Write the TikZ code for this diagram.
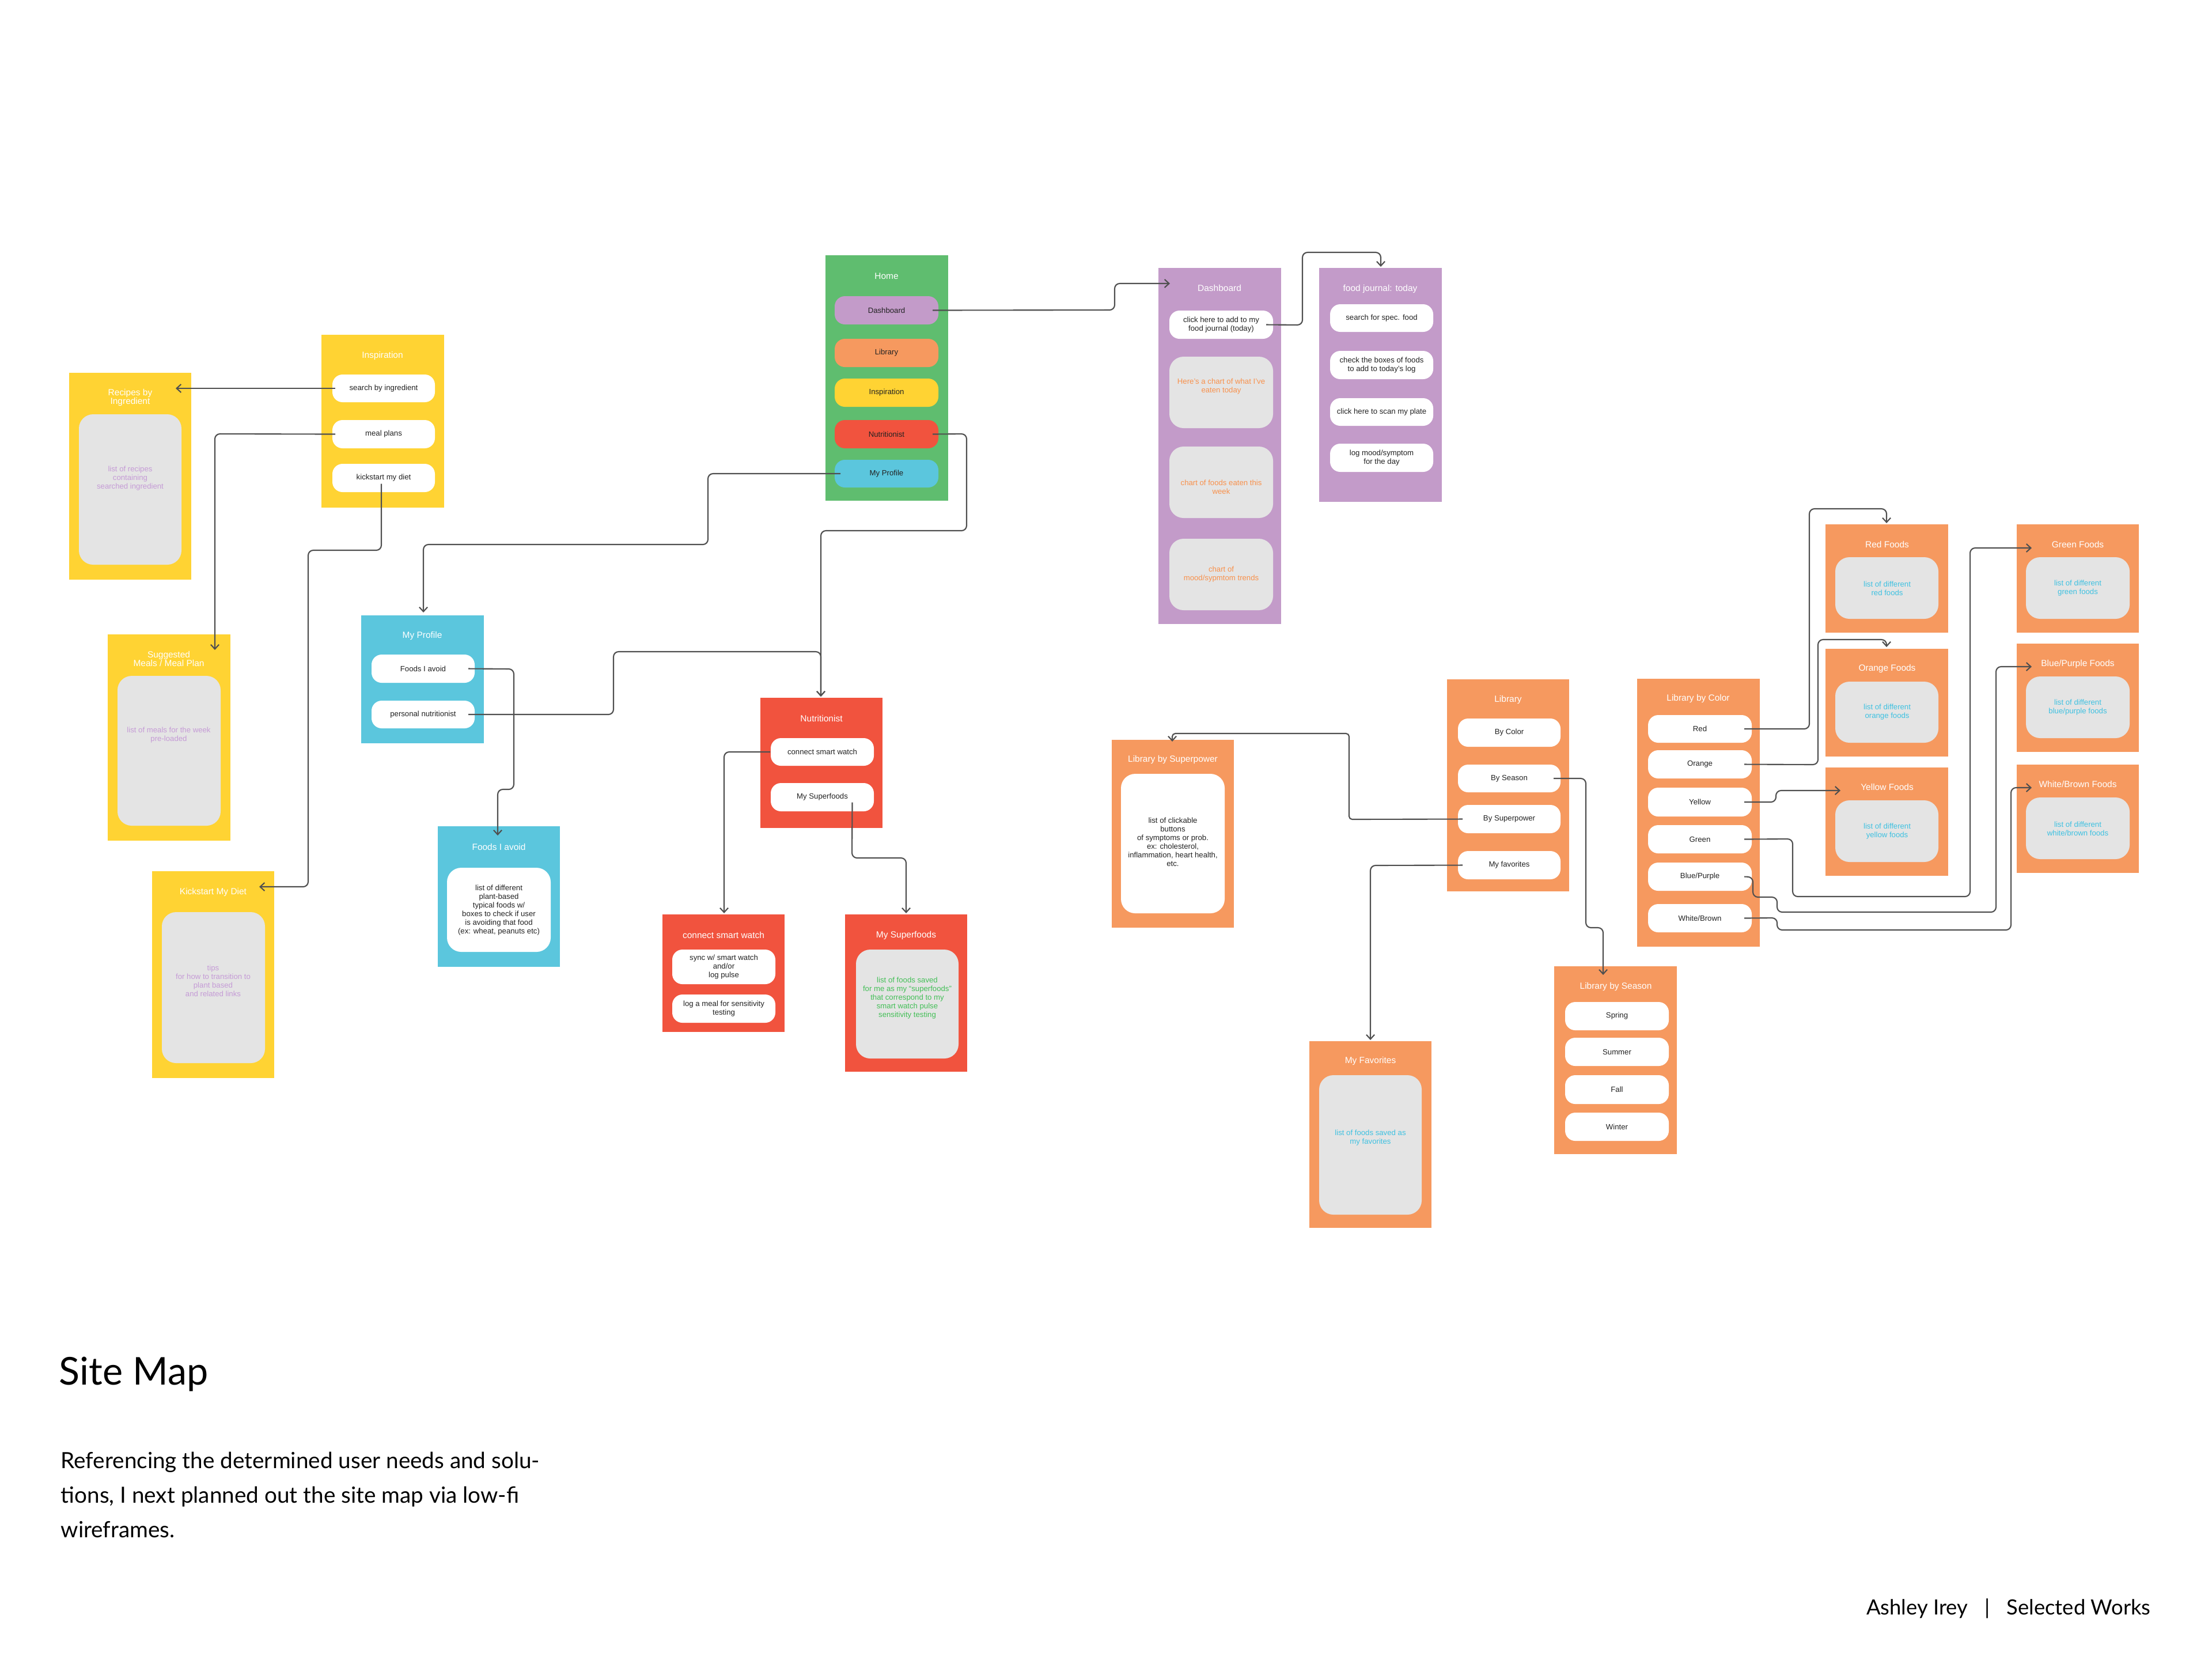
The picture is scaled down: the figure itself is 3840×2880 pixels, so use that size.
\documentclass[tikz,border=0pt]{standalone}
\usepackage{fontspec}
\setmainfont{Liberation Sans}
\newfontfamily\futura{Lato}
\usetikzlibrary{arrows.meta,calc}
\definecolor{cyel}{HTML}{FFD333}
\definecolor{cgrn}{HTML}{5FBD6F}
\definecolor{cpur}{HTML}{C39BC9}
\definecolor{cora}{HTML}{F6995F}
\definecolor{cred}{HTML}{F1533E}
\definecolor{ccya}{HTML}{5BC6DD}
\definecolor{cgry}{HTML}{E4E4E4}
\definecolor{tpur}{HTML}{C59BD6}
\definecolor{tora}{HTML}{F8914C}
\definecolor{tcya}{HTML}{3EC1E1}
\definecolor{tgrn}{HTML}{43BF57}
\definecolor{cline}{HTML}{4F4F4F}
\definecolor{ctxt}{HTML}{222222}
\newcommand{\rr}[7]{\node[#1, minimum width={(#5-#3)*0.01cm}, minimum height={(#6-#4)*0.01cm}] (#2) at ({(#3+#5)/2},{(#4+#6)/2}) {#7};}
\begin{document}
\begin{tikzpicture}[x=0.01cm, y=-0.01cm,
  frame/.style={rectangle, fill=#1, draw=none, inner sep=0pt, outer sep=0pt},
  pill/.style={rectangle, rounded corners=5pt, fill=#1, draw=none, inner sep=0pt, outer sep=0pt, text=ctxt, font=\fontsize{3.75pt}{4.27pt}\selectfont, align=center},
  pill/.default=white,
  panel/.style={rectangle, rounded corners=7pt, fill=#1, draw=none, inner sep=0pt, outer sep=0pt},
  panel/.default=cgry,
  ttl/.style={text=white, font=\fontsize{4.4pt}{4.27pt}\selectfont, align=center, inner sep=0pt},
  note/.style={text=#1, font=\fontsize{3.75pt}{4.27pt}\selectfont, align=center, inner sep=0pt},
  conn/.style={draw=cline, line width=0.6pt, rounded corners=2.5pt, -{Straight Barb[length=2.2pt,width=4pt]}},
  bigtxt/.style={inner sep=0pt, anchor=base west, text=black}
]
\useasboundingbox (0,0) rectangle (3840,2880);
\fill[white] (0,0) rectangle (3840,2880);

% ---------- Inspiration ----------
\rr{frame=cyel}{insp}{558}{581}{771}{881}{}
\node[ttl] (inspT) at (664,617) {Inspiration};
\rr{pill}{sbi}{577}{650}{755}{698}{search by ingredient}
\rr{pill}{mp}{577}{729}{755}{778}{meal plans}
\rr{pill}{ksd}{577}{805}{755}{854}{kickstart my diet}

\rr{frame=cyel}{rec}{120}{647}{332}{1006}{}
\node[ttl] (recT) at (226,690) {Recipes by\\Ingredient};
\rr{panel}{recP}{137}{719}{315}{980}{}
\node[note=tpur] (recN) at (226,830) {list of recipes\\containing\\searched ingredient};

\rr{frame=cyel}{sug}{187}{1101}{400}{1459}{}
\node[ttl] (sugT) at (293,1143) {Suggested\\Meals / Meal Plan};
\rr{panel}{sugP}{204}{1173}{383}{1433}{}
\node[note=tpur] (sugN) at (293,1276) {list of meals for the week\\pre-loaded};

\rr{frame=cyel}{kick}{264}{1512}{476}{1871}{}
\node[ttl] (kickT) at (370,1548) {Kickstart My Diet};
\rr{panel}{kickP}{281}{1583}{460}{1845}{}
\node[note=tpur] (kickN) at (370,1702) {tips\\for how to transition to\\plant based\\and related links};

% ---------- Home ----------
\rr{frame=cgrn}{home}{1433}{443}{1646}{869}{}
\node[ttl] (homeT) at (1539,479) {Home};
\rr{pill=cpur}{hDash}{1449}{514}{1629}{563}{Dashboard}
\rr{pill=cora}{hLib}{1449}{588}{1629}{637}{Library}
\rr{pill=cyel}{hIns}{1449}{657}{1629}{706}{Inspiration}
\rr{pill=cred}{hNut}{1449}{729}{1629}{778}{Nutritionist}
\rr{pill=ccya}{hProf}{1449}{798}{1629}{846}{My Profile}

% ---------- My Profile ----------
\rr{frame=ccya}{prof}{627}{1068}{840}{1290}{}
\node[ttl] (profT) at (733,1103) {My Profile};
\rr{pill}{pAvoid}{645}{1136}{824}{1185}{Foods I avoid}
\rr{pill}{pNut}{645}{1216}{824}{1264}{personal nutritionist}

\rr{frame=ccya}{avoid}{760}{1434}{972}{1678}{}
\node[ttl] (avoidT) at (866,1470) {Foods I avoid};
\rr{panel=white}{avoidP}{776}{1506}{956}{1652}{}
\node[note=ctxt] (avoidN) at (866,1580) {list of different\\plant-based\\typical foods w/\\boxes to check if user\\is avoiding that food\\(ex: wheat, peanuts etc)};

% ---------- Nutritionist ----------
\rr{frame=cred}{nut}{1320}{1211}{1532}{1437}{}
\node[ttl] (nutT) at (1426,1247) {Nutritionist};
\rr{pill}{nCsw}{1338}{1281}{1517}{1329}{connect smart watch}
\rr{pill}{nSup}{1338}{1359}{1517}{1408}{My Superfoods}

\rr{frame=cred}{csw}{1150}{1587}{1362}{1791}{}
\node[ttl] (cswT) at (1256,1623) {connect smart watch};
\rr{pill}{cswA}{1167}{1648}{1346}{1708}{sync w/ smart watch\\and/or\\log pulse}
\rr{pill}{cswB}{1167}{1726}{1346}{1775}{log a meal for sensitivity\\testing}

\rr{frame=cred}{sup}{1467}{1587}{1679}{1860}{}
\node[ttl] (supT) at (1573,1623) {My Superfoods};
\rr{panel}{supP}{1486}{1648}{1664}{1837}{}
\node[note=tgrn] (supN) at (1575,1732) {list of foods saved\\for me as my “superfoods”\\that correspond to my\\smart watch pulse\\sensitivity testing};

% ---------- Dashboard ----------
\rr{frame=cpur}{dash}{2011}{465}{2224}{1083}{}
\node[ttl] (dashT) at (2117,500) {Dashboard};
\rr{pill}{dClick}{2030}{539}{2210}{588}{click here to add to my\\food journal (today)}
\rr{panel}{dA}{2030}{619}{2210}{743}{}
\rr{panel}{dB}{2030}{775}{2210}{899}{}
\rr{panel}{dC}{2030}{935}{2210}{1059}{}
\node[note=tora] (dAN) at (2120,671) {Here’s a chart of what I’ve\\eaten today};
\node[note=tora] (dBN) at (2120,845) {chart of foods eaten this\\week};
\node[note=tora] (dCN) at (2120,997) {chart of\\mood/sypmtom trends};

\rr{frame=cpur}{fj}{2290}{465}{2503}{871}{}
\node[ttl] (fjT) at (2396,501) {food journal: today};
\rr{pill}{fjA}{2309}{528}{2488}{576}{search for spec. food}
\rr{pill}{fjB}{2309}{609}{2488}{658}{check the boxes of foods\\to add to today’s log}
\rr{pill}{fjC}{2309}{691}{2488}{739}{click here to scan my plate}
\rr{pill}{fjD}{2309}{770}{2488}{819}{log mood/symptom\\for the day}

% ---------- Library ----------
\rr{frame=cora}{lib}{2512}{1179}{2724}{1547}{}
\node[ttl] (libT) at (2618,1214) {Library};
\rr{pill}{lCol}{2531}{1247}{2709}{1296}{By Color}
\rr{pill}{lSea}{2531}{1327}{2709}{1375}{By Season}
\rr{pill}{lSup}{2531}{1397}{2709}{1446}{By Superpower}
\rr{pill}{lFav}{2531}{1477}{2709}{1526}{My favorites}

\rr{frame=cora}{lsp}{1930}{1284}{2142}{1610}{}
\node[ttl] (lspT) at (2036,1318) {Library by Superpower};
\rr{panel=white}{lspP}{1946}{1343}{2126}{1585}{}
\node[note=ctxt] (lspN) at (2036,1461) {list of clickable\\buttons\\of symptoms or prob.\\ex: cholesterol,\\inflammation, heart health,\\etc.};

\rr{frame=cora}{fav}{2273}{1807}{2485}{2131}{}
\node[ttl] (favT) at (2379,1841) {My Favorites};
\rr{panel}{favP}{2290}{1866}{2468}{2108}{}
\node[note=tcya] (favN) at (2379,1975) {list of foods saved as\\my favorites};

\rr{frame=cora}{lse}{2698}{1677}{2911}{2003}{}
\node[ttl] (lseT) at (2805,1712) {Library by Season};
\rr{pill}{sSpr}{2717}{1739}{2897}{1788}{Spring}
\rr{pill}{sSum}{2717}{1801}{2897}{1850}{Summer}
\rr{pill}{sFal}{2717}{1866}{2897}{1916}{Fall}
\rr{pill}{sWin}{2717}{1931}{2897}{1980}{Winter}

\rr{frame=cora}{lco}{2842}{1178}{3055}{1643}{}
\node[ttl] (lcoT) at (2948,1212) {Library by Color};
\rr{pill}{cRed}{2861}{1241}{3041}{1289}{Red}
\rr{pill}{cOra}{2861}{1302}{3041}{1351}{Orange}
\rr{pill}{cYel}{2861}{1367}{3041}{1417}{Yellow}
\rr{pill}{cGrn}{2861}{1432}{3041}{1481}{Green}
\rr{pill}{cBlu}{2861}{1497}{3041}{1546}{Blue/Purple}
\rr{pill}{cWht}{2861}{1569}{3041}{1618}{White/Brown}

% ---------- Food frames ----------
\rr{frame=cora}{redF}{3169}{910}{3382}{1098}{}
\node[ttl] (redT) at (3276,945) {Red Foods};
\rr{panel}{redP}{3186}{967}{3365}{1074}{}
\node[note=tcya] (redN) at (3276,1021) {list of different\\red foods};

\rr{frame=cora}{oraF}{3169}{1126}{3382}{1313}{}
\node[ttl] (oraT) at (3276,1160) {Orange Foods};
\rr{panel}{oraP}{3186}{1183}{3365}{1289}{}
\node[note=tcya] (oraN) at (3276,1236) {list of different\\orange foods};

\rr{frame=cora}{yelF}{3169}{1332}{3382}{1520}{}
\node[ttl] (yelT) at (3276,1366) {Yellow Foods};
\rr{panel}{yelP}{3186}{1389}{3365}{1496}{}
\node[note=tcya] (yelN) at (3276,1443) {list of different\\yellow foods};

\rr{frame=cora}{grnF}{3501}{910}{3713}{1098}{}
\node[ttl] (grnT) at (3607,945) {Green Foods};
\rr{panel}{grnP}{3517}{967}{3697}{1074}{}
\node[note=tcya] (grnN) at (3607,1021) {list of different\\green foods};

\rr{frame=cora}{bluF}{3501}{1117}{3713}{1305}{}
\node[ttl] (bluT) at (3607,1152) {Blue/Purple Foods};
\rr{panel}{bluP}{3517}{1174}{3697}{1281}{}
\node[note=tcya] (bluN) at (3607,1228) {list of different\\blue/purple foods};

\rr{frame=cora}{whtF}{3501}{1327}{3713}{1515}{}
\node[ttl] (whtT) at (3607,1361) {White/Brown Foods};
\rr{panel}{whtP}{3517}{1384}{3697}{1491}{}
\node[note=tcya] (whtN) at (3607,1438) {list of different\\white/brown foods};

% ---------- arrow targets ----------
\coordinate (recIn) at (305,674);
\coordinate (sugIn) at (373,1128);
\coordinate (kickIn) at (450,1539);
\coordinate (dashIn) at (2031,492);
\coordinate (fjIn) at (2397,463);
\coordinate (profIn) at (735,1063);
\coordinate (nutIn) at (1425,1209);
\coordinate (avoidIn) at (864,1450);
\coordinate (cswIn) at (1257,1585);
\coordinate (supIn) at (1573,1585);
\coordinate (lspIn) at (2035,1287);
\coordinate (favIn) at (2379,1805);
\coordinate (lseIn) at (2783,1692);
\coordinate (redIn) at (3275,908);
\coordinate (oraIn) at (3275,1123);
\coordinate (yelIn) at (3195,1372);
\coordinate (grnIn) at (3527,951);
\coordinate (bluIn) at (3527,1157);
\coordinate (whtIn) at (3527,1367);

% ---------- connectors ----------
\draw[conn] ($(sbi.west)+(5,0)$) -- (recIn);
\draw[conn] ($(mp.west)+(5,0)$) -- (373,753) -- (sugIn);
\draw[conn] ($(ksd.center)+(-4,10)$) -- (662,955) -- (535,955) -- (535,1539) -- (kickIn);
\draw[conn] ($(hDash.east)+(-10,0)$) -- (1935,538) -- (1935,492) -- (dashIn);
\draw[conn] ($(dClick.east)+(-12,0)$) -- (2261,564) -- (2261,438) -- (2397,438) -- (fjIn);
\draw[conn] ($(hProf.west)+(10,0)$) -- (1229,822) -- (1229,945) -- (735,945) -- (profIn);
\draw[conn] ($(hNut.east)+(-10,0)$) -- (1678,753) -- (1678,921) -- (1425,921) -- (nutIn);
\draw[conn] ($(pNut.east)+(-11,0)$) -- (1065,1240) -- (1065,1131) -- (1425,1131) -- (nutIn);
\draw[conn] ($(pAvoid.east)+(-11,0)$) -- (892,1161) -- (892,1370) -- (864,1370) -- (avoidIn);
\draw[conn] ($(nCsw.west)+(-1,0)$) -- (1257,1305) -- (cswIn);
\draw[conn] ($(nSup.center)+(52,9)$) -- (1479,1489) -- (1573,1489) -- (supIn);
\draw[conn, rounded corners=1.5pt] ($(lSup.west)+(8,0)$) -- (2342,1422) -- (2342,1273) -- (2035,1273) -- (lspIn);
\draw[conn] ($(lFav.west)+(8,0)$) -- (2379,1502) -- (favIn);
\draw[conn] ($(lSea.east)+(-12,0)$) -- (2753,1351) -- (2753,1610) -- (2783,1610) -- (lseIn);
\draw[conn] ($(cRed.east)+(-13,0)$) -- (3141,1265) -- (3141,883) -- (3275,883) -- (redIn);
\draw[conn] ($(cOra.east)+(-13,0)$) -- (3156,1327) -- (3156,1110) -- (3275,1110) -- (oraIn);
\draw[conn] ($(cYel.east)+(-13,0)$) -- (3083,1392) -- (3083,1372) -- (yelIn);
\draw[conn] ($(cGrn.east)+(-13,0)$) -- (3112,1456) -- (3112,1556) -- (3420,1556) -- (3420,951) -- (grnIn);
\draw[conn] ($(cBlu.east)+(-13,0)$) -- (3043,1522) -- (3043,1557) -- (3085,1557) -- (3085,1583) -- (3465,1583) -- (3465,1157) -- (bluIn);
\draw[conn] ($(cWht.east)+(-13,0)$) -- (3085,1593) -- (3085,1614) -- (3491,1614) -- (3491,1367) -- (whtIn);

% ---------- page text ----------
\node[bigtxt, font=\futura\fontsize{18.9pt}{22pt}\selectfont] (sitemap) at (102,2403) {Site Map};
\node[bigtxt, font=\futura\fontsize{11pt}{12pt}\selectfont] (para1) at (105,2548) {Referencing the determined user needs and solu-};
\node[bigtxt, font=\futura\fontsize{11pt}{12pt}\selectfont] (para2) at (105,2608) {tions, I next planned out the site map via low-fi};
\node[bigtxt, font=\futura\fontsize{11pt}{12pt}\selectfont] (para3) at (105,2668) {wireframes.};
\node[inner sep=0pt, anchor=base east, font=\futura\fontsize{10.35pt}{12pt}\selectfont] (footer) at (3734,2802) {Ashley Irey\hspace{0.8em}|\hspace{0.8em}Selected Works};
\end{tikzpicture}
\end{document}
